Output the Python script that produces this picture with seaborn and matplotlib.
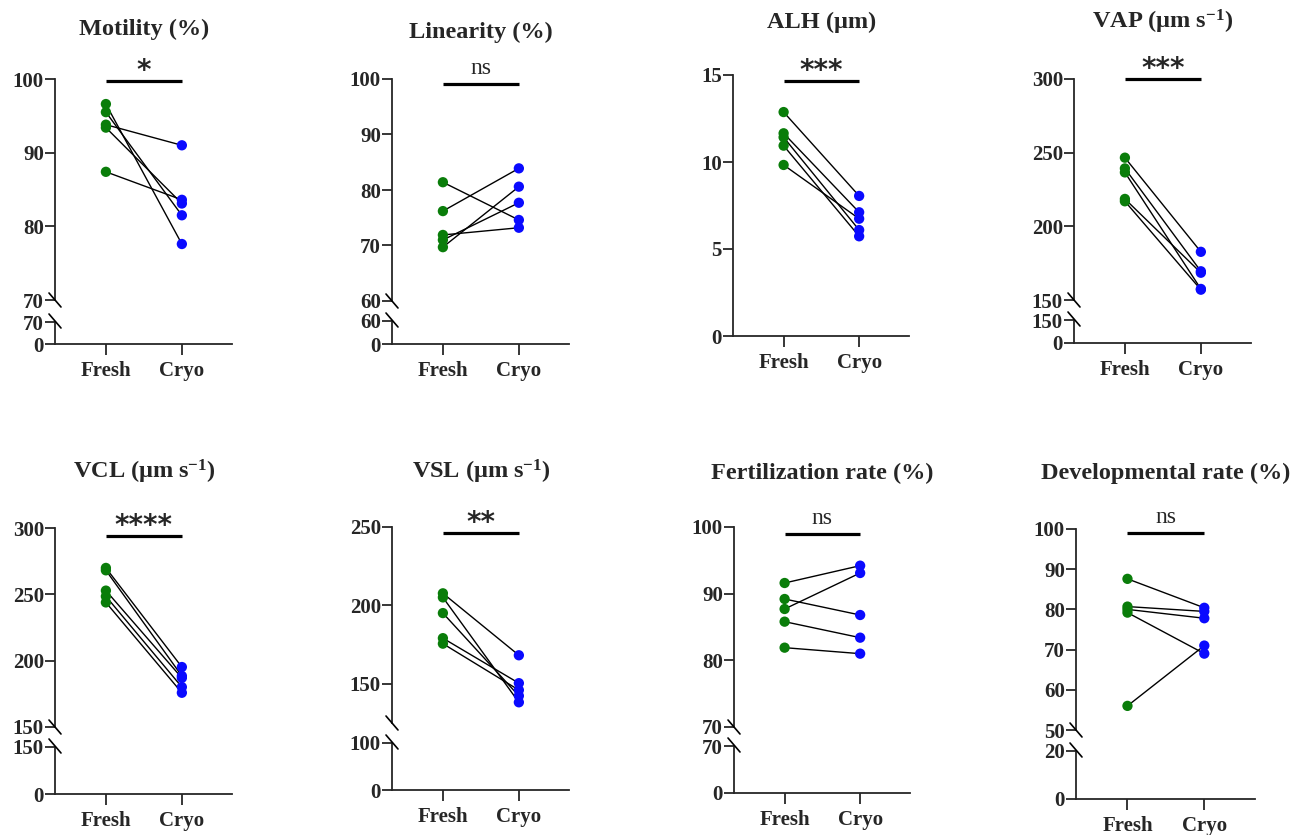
import matplotlib
matplotlib.use("Agg")
import matplotlib.pyplot as plt
from matplotlib.lines import Line2D
from matplotlib.transforms import blended_transform_factory
import pandas as pd
import seaborn as sns

# ---------------- data ----------------
conditions = ["Fresh", "Cryo"]

motility_fresh = [96.6, 95.5, 93.8, 93.4, 87.4]
motility_cryo = [77.6, 81.5, 91.0, 83.1, 83.6]

linearity_fresh = [81.4, 76.2, 71.9, 71.0, 69.7]
linearity_cryo = [74.6, 83.9, 73.2, 77.7, 80.6]

alh_fresh = [12.87, 11.65, 11.42, 10.94, 9.83]
alh_cryo = [8.05, 7.11, 6.09, 5.73, 6.74]

vap_fresh = [246.6, 239.3, 236.6, 218.6, 217.0]
vap_cryo = [182.7, 169.5, 157.5, 168.5, 157.0]

vcl_fresh = [269.9, 268.1, 252.8, 248.5, 243.9]
vcl_cryo = [195.2, 188.5, 187.0, 180.1, 175.8]

vsl_fresh = [207.7, 205.1, 195.1, 179.1, 175.6]
vsl_cryo = [168.2, 138.2, 142.3, 150.4, 146.0]

fert_fresh = [91.6, 89.2, 87.7, 85.8, 81.9]
fert_cryo = [94.2, 86.8, 93.1, 83.4, 81.0]

dev_fresh = [87.6, 80.7, 80.0, 79.2, 56.0]
dev_cryo = [80.4, 79.5, 77.8, 69.0, 71.0]

titles = ["Motility (%)", "Linearity (%)", "ALH (μm)", r"VAP (μm s$^{-1}$)",
          r"VCL (μm s$^{-1}$)", r"VSL (μm s$^{-1}$)", "Fertilization rate (%)",
          "Developmental rate (%)"]
significance = ["*", "ns", "***", "***", "****", "**", "ns", "ns"]
series = [(motility_fresh, motility_cryo), (linearity_fresh, linearity_cryo),
          (alh_fresh, alh_cryo), (vap_fresh, vap_cryo),
          (vcl_fresh, vcl_cryo), (vsl_fresh, vsl_cryo),
          (fert_fresh, fert_cryo), (dev_fresh, dev_cryo)]

# ---------------- layout (pixels) ----------------
W, H = 1316, 835
# left, right, title baseline, bar y, segments (top_px, bottom_px, ymin, ymax, ticks)
layout = [
    (55, 232, 35, 81, [(79, 300, 70, 100, [70, 80, 90, 100]), (322, 344, 0, 70, [0, 70])]),
    (392, 569, 38, 84, [(79, 301, 60, 100, [60, 70, 80, 90, 100]), (321, 344, 0, 60, [0, 60])]),
    (733, 909, 28, 81, [(75, 336, 0, 15, [0, 5, 10, 15])]),
    (1074, 1251, 29, 79, [(79, 300, 150, 300, [150, 200, 250, 300]), (320, 343, 0, 150, [0, 150])]),
    (55, 232, 479, 536, [(528, 727, 150, 300, [150, 200, 250, 300]), (747, 794, 0, 150, [0, 150])]),
    (392, 569, 479, 533, [(527, 723, 125, 250, [150, 200, 250]), (743, 790, 0, 100, [0, 100])]),
    (734, 910, 479, 534, [(527, 727, 70, 100, [70, 80, 90, 100]), (746, 793, 0, 70, [0, 70])]),
    (1076, 1255, 479, 533, [(529, 730, 50, 100, [50, 60, 70, 80, 90, 100]), (751, 799, 0, 20, [0, 20])]),
]
XLIM = (-0.67, 1.66)

sns.set_style("ticks")
plt.rcParams["font.family"] = ["Liberation Serif", "DejaVu Serif"]
plt.rcParams["font.weight"] = "bold"
plt.rcParams["mathtext.fontset"] = "custom"
plt.rcParams["mathtext.rm"] = "Liberation Serif:bold"
plt.rcParams["mathtext.it"] = "Liberation Serif:bold"
plt.rcParams["mathtext.bf"] = "Liberation Serif:bold"
plt.rcParams["mathtext.default"] = "bf"

fig = plt.figure(figsize=(W / 100, H / 100), dpi=100)
palette = {"Fresh": "#0a7d0a", "Cryo": "#0a0aff"}


def px_axes(left, right, top, bottom, sharex=None):
    return fig.add_axes([left / W, 1 - bottom / H, (right - left) / W, (bottom - top) / H],
                        sharex=sharex)


def fy(py):
    return 1 - py / H


for (fresh, cryo), title, sig, (left, right, title_y, bar_y, segs) in zip(series, titles, significance, layout):
    df = pd.DataFrame({
        "condition": ["Fresh"] * len(fresh) + ["Cryo"] * len(cryo),
        "value": list(fresh) + list(cryo),
        "pair": list(range(len(fresh))) * 2,
    })
    axes = []
    for i, (top, bottom, ymin, ymax, ticks) in enumerate(segs):
        ax = px_axes(left, right, top, bottom, sharex=axes[0] if axes else None)
        if i == 0:
            sns.lineplot(data=df, x="condition", y="value", units="pair", estimator=None,
                         color="black", lw=1.0, sort=False, ax=ax, zorder=2)
            sns.scatterplot(data=df, x="condition", y="value", hue="condition", palette=palette,
                            s=55, linewidth=0, legend=False, ax=ax, zorder=3)
            ax.set_xlim(*XLIM)
        ax.set_ylim(ymin, ymax)
        ax.set_yticks(ticks)
        ax.set_xlabel("")
        ax.set_ylabel("")
        ax.patch.set_alpha(0)
        for s in ["top", "right"]:
            ax.spines[s].set_visible(False)
        ax.spines["left"].set_linewidth(1.3)
        ax.spines["bottom"].set_linewidth(1.3)
        ax.tick_params(axis="y", length=7, width=1.3, pad=1, labelsize=15)
        ax.tick_params(axis="x", length=8, width=1.3, pad=4, labelsize=15)
        is_last = i == len(segs) - 1
        if not is_last:
            ax.spines["bottom"].set_visible(False)
            ax.tick_params(axis="x", bottom=False, labelbottom=False)
        else:
            ax.tick_params(axis="x", bottom=True, labelbottom=True)
        axes.append(ax)
        # break marks
        if len(segs) > 1:
            yb = bottom if i == 0 else top - 1
            fig.add_artist(Line2D([(left - 6) / W, (left + 6) / W], [fy(yb - 7), fy(yb + 7)],
                                  transform=fig.transFigure, color="black", lw=1.2))
    for ax in axes:
        for lab in ax.get_yticklabels() + ax.get_xticklabels():
            lab.set_fontweight("bold")

    ax0 = axes[0]
    tr = blended_transform_factory(ax0.transData, fig.transFigure)
    # significance bar
    fig.add_artist(Line2D([0, 1], [fy(bar_y), fy(bar_y)], transform=tr, color="black",
                          lw=2.3, solid_capstyle="butt"))
    if sig == "ns":
        fig.text(0.5, fy(bar_y - 10), sig, transform=tr, ha="center", va="baseline",
                 fontsize=17, fontweight="normal", family="Liberation Serif")
    else:
        fig.text(0.5, fy(bar_y - 2), sig, transform=tr, ha="center", va="baseline",
                 fontsize=20, fontweight="bold", family="DejaVu Sans")
    fig.text(0.5, fy(title_y), title, transform=tr, ha="center", va="baseline",
             fontsize=17.5, fontweight="bold")

fig.savefig("out.png", dpi=100)
